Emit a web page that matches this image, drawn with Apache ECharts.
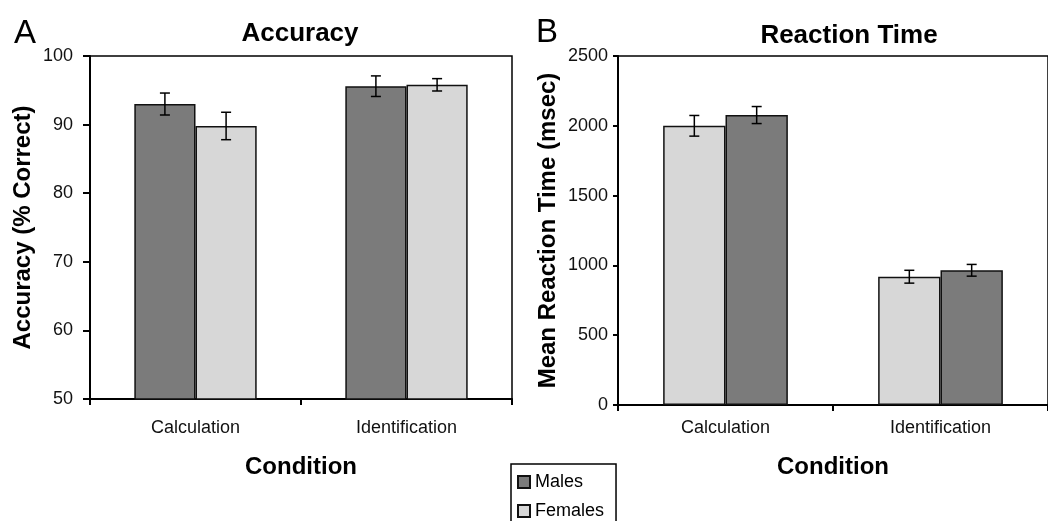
<!DOCTYPE html>
<html lang="en">
<head>
    <meta charset="UTF-8">
    <title>Accuracy / Reaction Time</title>
    <script src="https://cdn.jsdelivr.net/npm/echarts@6/dist/echarts.min.js"></script>
    <style>
        html, body { margin: 0; padding: 0; background: #fff; }
        #main { width: 1048px; height: 521px; }
    </style>
</head>
<body>
    <div id="main"></div>
    <script>
        // data
        var categories = ['Calculation', 'Identification'];
        var accMales = [93.0, 95.6];
        var accMalesErr = [1.6, 1.5];
        var accFemales = [89.8, 95.8];
        var accFemalesErr = [2.0, 0.9];
        var rtMales = [2077, 965];
        var rtMalesErr = [61, 42];
        var rtFemales = [2000, 919];
        var rtFemalesErr = [74, 46];
        var accTicks = [50, 100, 10]; // min, max, step
        var rtTicks = [0, 2500, 500];

        var FONT = 'Arial, "Liberation Sans", sans-serif';
        var DARK = '#7b7b7b';
        var LIGHT = '#d7d7d7';
        var BAR_FRAC = 0.29;

        var myChart = echarts.init(document.getElementById('main'));

        // error bar drawn at the bar's center, side = -1 (left bar) or 1 (right bar)
        function errRender(side) {
            return function (params, api) {
                var i = api.value(0), v = api.value(1), e = api.value(2);
                var band = api.size([1, 0])[0];
                var dx = side * band * BAR_FRAC / 2;
                var top = api.coord([i, v + e]);
                var bot = api.coord([i, v - e]);
                var x = top[0] + dx;
                var cap = 5;
                var st = { stroke: '#000', lineWidth: 1.5 };
                return {
                    type: 'group',
                    children: [
                        { type: 'line', shape: { x1: x, y1: top[1], x2: x, y2: bot[1] }, style: st },
                        { type: 'line', shape: { x1: x - cap, y1: top[1], x2: x + cap, y2: top[1] }, style: st },
                        { type: 'line', shape: { x1: x - cap, y1: bot[1], x2: x + cap, y2: bot[1] }, style: st }
                    ]
                };
            };
        }

        function errData(vals, errs) {
            var out = [];
            for (var i = 0; i < vals.length; i++) out.push([i, vals[i], errs[i]]);
            return out;
        }

        function barSeries(name, color, data, idx) {
            return {
                name: name,
                type: 'bar',
                xAxisIndex: idx,
                yAxisIndex: idx,
                barWidth: (BAR_FRAC * 100) + '%',
                barGap: '0%',
                itemStyle: { color: color, borderColor: '#111', borderWidth: 1.5 },
                data: data
            };
        }

        function errSeries(vals, errs, side, idx) {
            return {
                type: 'custom',
                xAxisIndex: idx,
                yAxisIndex: idx,
                silent: true,
                z: 5,
                encode: { x: 0, y: 1 },
                renderItem: errRender(side),
                data: errData(vals, errs)
            };
        }

        function xAxisCfg(idx, margin, gap) {
            return {
                gridIndex: idx,
                type: 'category',
                data: categories,
                name: 'Condition',
                nameLocation: 'middle',
                nameGap: gap,
                nameTextStyle: { fontFamily: FONT, fontSize: 24, fontWeight: 'bold', color: '#000' },
                axisLine: { lineStyle: { color: '#000', width: 2 } },
                axisTick: { show: true, length: 6, lineStyle: { color: '#000', width: 2 } },
                axisLabel: { fontFamily: FONT, fontSize: 18, color: '#111', margin: margin }
            };
        }

        function yAxisCfg(idx, name, ticks, gap, margin, tickLen) {
            return {
                gridIndex: idx,
                type: 'value',
                min: ticks[0],
                max: ticks[1],
                interval: ticks[2],
                name: name,
                nameLocation: 'middle',
                nameRotate: 90,
                nameGap: gap,
                nameTextStyle: { fontFamily: FONT, fontSize: 24, fontWeight: 'bold', color: '#000' },
                axisLine: { show: true, lineStyle: { color: '#000', width: 2 } },
                axisTick: { show: true, length: tickLen, lineStyle: { color: '#000', width: 2 } },
                axisLabel: {
                    fontFamily: FONT, fontSize: 18, color: '#111', margin: margin,
                    formatter: function (v) { return String(v); }
                },
                splitLine: { show: false }
            };
        }

        var option = {
            animation: false,
            backgroundColor: '#fff',
            graphic: [
                { type: 'text', x: 14, y: 34, style: { text: 'A', fontFamily: FONT, fontSize: 33, fill: '#000', textVerticalAlign: 'middle' } },
                { type: 'text', x: 300, y: 34, style: { text: 'Accuracy', fontFamily: FONT, fontSize: 26, fontWeight: 'bold', fill: '#000', textAlign: 'center', textVerticalAlign: 'middle' } },
                { type: 'text', x: 536, y: 33, style: { text: 'B', fontFamily: FONT, fontSize: 33, fill: '#000', textVerticalAlign: 'middle' } },
                { type: 'text', x: 849, y: 36, style: { text: 'Reaction Time', fontFamily: FONT, fontSize: 26, fontWeight: 'bold', fill: '#000', textAlign: 'center', textVerticalAlign: 'middle' } }
            ],
            legend: {
                data: ['Males', 'Females'],
                orient: 'vertical',
                left: 511,
                top: 464,
                height: 70,
                padding: [9, 12, 12, 6],
                itemWidth: 12,
                itemHeight: 12,
                itemGap: 11,
                icon: 'rect',
                borderColor: '#000',
                borderWidth: 1.5,
                textStyle: { fontFamily: FONT, fontSize: 18, color: '#000', padding: [0, 0, 0, 0] }
            },
            grid: [
                { left: 90, top: 56, width: 422, height: 343, show: true, borderColor: '#000', borderWidth: 1.5, backgroundColor: 'transparent' },
                { left: 618, top: 56, width: 432, height: 349, show: true, borderColor: '#000', borderWidth: 1.5, backgroundColor: 'transparent' }
            ],
            xAxis: [xAxisCfg(0, 20, 56), xAxisCfg(1, 14, 50)],
            yAxis: [
                yAxisCfg(0, 'Accuracy (% Correct)', accTicks, 55, 17, 7),
                yAxisCfg(1, 'Mean Reaction Time (msec)', rtTicks, 58, 10, 5)
            ],
            series: [
                barSeries('Males', DARK, accMales, 0),
                barSeries('Females', LIGHT, accFemales, 0),
                errSeries(accMales, accMalesErr, -1, 0),
                errSeries(accFemales, accFemalesErr, 1, 0),
                barSeries('Females', LIGHT, rtFemales, 1),
                barSeries('Males', DARK, rtMales, 1),
                errSeries(rtFemales, rtFemalesErr, -1, 1),
                errSeries(rtMales, rtMalesErr, 1, 1)
            ]
        };
        myChart.setOption(option);
    </script>
</body>
</html>
